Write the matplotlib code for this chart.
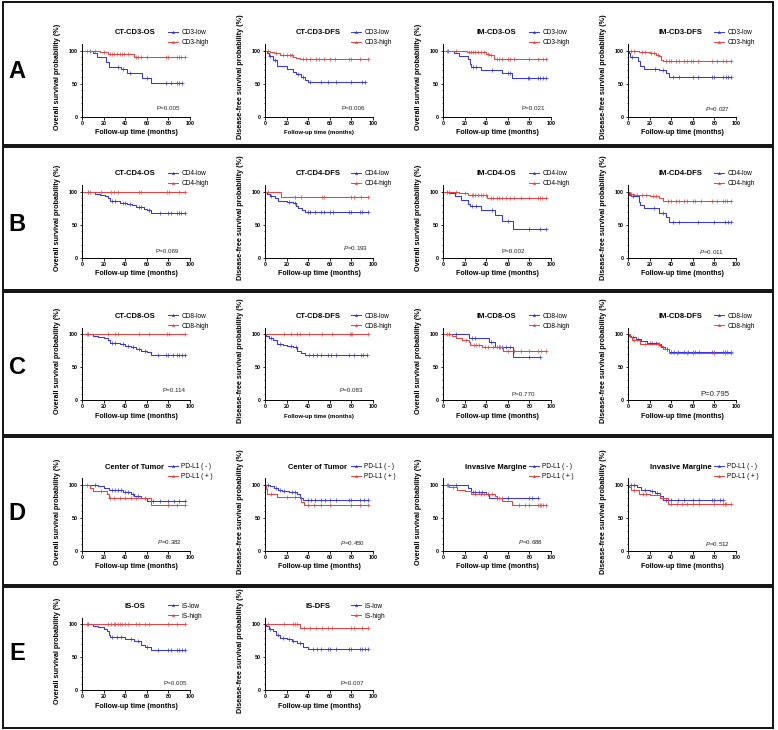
import numpy as np
import matplotlib.pyplot as plt
from matplotlib.patches import Rectangle
from matplotlib.lines import Line2D

plt.rcParams['font.family'] = ['Liberation Sans', 'DejaVu Sans']
plt.rcParams['mathtext.fontset'] = 'custom'
plt.rcParams['mathtext.it'] = 'Liberation Sans:italic'
plt.rcParams['mathtext.rm'] = 'Liberation Sans'

BLUE = '#3535ee'
RED = '#ef4040'

# ---- KM data: (time, survival %) steps and censor times ----
# row A
a1_low = [(0, 100), (10, 96), (14, 91), (22, 83), (25, 76), (36, 72), (42, 66), (56, 59), (64, 51)]
a1_low_c = [7, 33, 38, 44, 60, 78, 82, 88, 90, 93]
a1_high = [(0, 100), (17, 98), (24, 95), (48, 90)]
a1_high_c = [5, 12, 20, 26, 28, 30, 32, 35, 37, 39, 43, 50, 52, 55, 60, 78, 80, 88, 90, 92, 95]

a2_low = [(0, 100), (2, 97), (4, 92), (7, 86), (11, 77), (20, 72), (26, 68), (29, 64), (33, 60), (37, 55), (40, 53)]
a2_low_c = [5, 9, 31, 35, 42, 52, 58, 66, 80, 90, 93]
a2_high = [(0, 100), (5, 98), (8, 96), (14, 93), (26, 91), (29, 89), (32, 87)]
a2_high_c = [3, 10, 17, 20, 23, 25, 35, 38, 42, 47, 50, 55, 60, 65, 78, 80, 88, 95]

a3_low = [(0, 100), (10, 96), (15, 92), (23, 87), (25, 80), (26, 76), (35, 71), (55, 66), (64, 59)]
a3_low_c = [5, 28, 31, 45, 60, 62, 79, 80, 88, 90, 93, 95]
a3_high = [(0, 100), (22, 98), (40, 95), (43, 93), (47, 88)]
a3_high_c = [4, 12, 24, 26, 28, 30, 32, 35, 38, 42, 44, 50, 52, 55, 60, 62, 66, 80, 88, 93, 95]

a4_low = [(0, 100), (1, 96), (2, 90), (9, 84), (11, 77), (15, 73), (29, 70), (35, 66), (38, 60)]
a4_low_c = [4, 25, 32, 42, 47, 60, 65, 78, 80, 88, 91, 93, 95]
a4_high = [(0, 100), (10, 98), (20, 96), (26, 94), (29, 92), (31, 86), (32, 84)]
a4_high_c = [3, 6, 13, 16, 21, 24, 28, 35, 38, 40, 44, 47, 52, 55, 58, 60, 65, 78, 82, 88, 91, 95]

# row B
b1_low = [(0, 100), (10, 99), (12, 97), (17, 95), (21, 93), (24, 90), (26, 86), (35, 83), (42, 81),
          (46, 80), (50, 77), (57, 74), (60, 72), (64, 67)]
b1_low_c = [6, 28, 31, 38, 40, 44, 53, 55, 62, 72, 80, 82, 88, 90, 92, 95]
b1_high = [(0, 100)]
b1_high_c = [7, 18, 27, 30, 33, 53, 55, 79, 81, 90, 95]

b2_low = [(0, 100), (2, 97), (5, 94), (9, 91), (12, 86), (20, 85), (26, 83), (29, 79), (31, 76), (34, 73), (37, 70)]
b2_low_c = [6, 22, 28, 40, 42, 46, 52, 55, 60, 63, 78, 80, 88, 90, 95]
b2_high = [(0, 100), (15, 92)]
b2_high_c = [3, 28, 33, 53, 55, 80, 82, 89, 95]

b3_low = [(0, 100), (6, 98), (11, 93), (17, 87), (23, 82), (25, 78), (35, 72), (48, 65), (55, 56), (65, 44)]
b3_low_c = [4, 27, 31, 45, 60, 80, 90, 95]
b3_high = [(0, 100), (15, 98), (23, 95), (41, 91)]
b3_high_c = [6, 12, 20, 27, 28, 30, 32, 35, 37, 40, 44, 46, 50, 52, 55, 58, 62, 66, 72, 80, 88, 90, 92, 95]

b4_low = [(0, 100), (1, 95), (3, 93), (10, 85), (11, 80), (15, 75), (29, 67), (35, 62), (38, 54)]
b4_low_c = [5, 24, 32, 42, 47, 65, 80, 90, 93, 95]
b4_high = [(0, 100), (2, 97), (6, 95), (20, 93), (29, 90), (32, 86)]
b4_high_c = [3, 8, 13, 17, 23, 26, 37, 40, 44, 47, 52, 55, 60, 62, 68, 78, 82, 88, 90, 92, 95]

# row C
c1_low = [(0, 100), (10, 98), (15, 96), (20, 94), (24, 91), (26, 87), (35, 85), (40, 83), (45, 80),
          (50, 77), (55, 74), (60, 73), (64, 68)]
c1_low_c = [6, 28, 31, 38, 43, 47, 53, 58, 70, 78, 80, 84, 88, 90, 93, 95]
c1_high = [(0, 100)]
c1_high_c = [5, 24, 31, 33, 53, 62, 79, 81, 95]

c2_low = [(0, 100), (1, 97), (4, 94), (7, 91), (11, 86), (17, 84), (20, 82), (26, 80), (30, 75), (33, 72), (37, 68)]
c2_low_c = [6, 14, 24, 29, 41, 44, 48, 52, 58, 61, 66, 78, 82, 89, 91, 94]
c2_high = [(0, 100)]
c2_high_c = [18, 24, 30, 32, 41, 53, 62, 79, 80, 81, 95]

c3_low = [(0, 100), (24, 95), (43, 89), (48, 81), (65, 65)]
c3_low_c = [6, 12, 27, 30, 44, 52, 55, 58, 62, 80, 90]
c3_high = [(0, 100), (8, 98), (12, 94), (18, 91), (24, 88), (25, 84), (36, 80), (56, 75)]
c3_high_c = [4, 21, 29, 31, 33, 39, 42, 46, 50, 53, 60, 66, 72, 80, 88, 91, 95]

c4_low = [(0, 100), (1, 98), (3, 96), (7, 93), (12, 90), (18, 87), (28, 85), (31, 81), (34, 78), (38, 73)]
c4_low_c = [5, 9, 20, 22, 26, 29, 36, 40, 43, 46, 52, 56, 60, 62, 66, 78, 80, 88, 90, 92, 95]
c4_high = [(0, 100), (2, 96), (4, 92), (11, 85), (30, 82), (32, 77), (38, 71)]
c4_high_c = [6, 16, 28, 36, 45, 55, 60, 80, 90, 95]

# row D
d1_neg = [(0, 100), (15, 98), (20, 96), (25, 93), (38, 89), (45, 86), (48, 83), (55, 81), (60, 76)]
d1_neg_c = [12, 28, 31, 33, 36, 40, 43, 47, 52, 58, 66, 72, 80, 85, 90, 95]
d1_pos = [(0, 100), (7, 96), (10, 91), (23, 87), (25, 80), (64, 70)]
d1_pos_c = [5, 18, 26, 30, 35, 40, 45, 50, 80, 88, 95]

d2_neg = [(0, 100), (5, 98), (8, 96), (12, 93), (16, 91), (22, 89), (30, 86), (32, 80), (35, 77)]
d2_neg_c = [3, 10, 14, 18, 25, 28, 40, 43, 46, 52, 56, 60, 66, 78, 80, 88, 92, 95]
d2_pos = [(0, 100), (1, 94), (2, 87), (11, 82), (33, 75), (36, 69)]
d2_pos_c = [6, 20, 28, 40, 45, 52, 60, 80, 88, 95]

d3_neg = [(0, 100), (23, 95), (26, 90), (40, 87), (43, 80)]
d3_neg_c = [5, 12, 28, 30, 33, 36, 42, 50, 55, 60, 80, 82, 88]
d3_pos = [(0, 100), (6, 97), (13, 93), (20, 91), (26, 87), (48, 84), (50, 80), (55, 76), (64, 70)]
d3_pos_c = [4, 9, 30, 35, 38, 45, 52, 70, 76, 80, 88, 90, 91, 93, 95]

d4_neg = [(0, 100), (8, 97), (12, 93), (20, 91), (25, 88), (30, 84), (32, 78)]
d4_neg_c = [3, 6, 16, 22, 27, 35, 40, 46, 52, 60, 66, 78, 80, 85, 88]
d4_pos = [(0, 100), (1, 97), (3, 93), (10, 86), (20, 85), (30, 80), (37, 71)]
d4_pos_c = [6, 14, 17, 40, 45, 50, 55, 60, 66, 80, 88, 90, 91, 95]

# row E
e1_low = [(0, 100), (10, 98), (15, 96), (20, 93), (23, 90), (25, 84), (26, 81), (40, 78), (48, 74),
          (55, 69), (58, 66), (64, 61)]
e1_low_c = [6, 28, 32, 36, 45, 52, 60, 70, 80, 82, 88, 90, 93, 95]
e1_high = [(0, 100)]
e1_high_c = [5, 24, 27, 30, 31, 33, 35, 37, 40, 43, 50, 53, 58, 62, 80, 88, 95]

e2_low = [(0, 100), (1, 97), (4, 93), (7, 90), (10, 84), (14, 80), (20, 78), (25, 75), (30, 71), (35, 66), (40, 62)]
e2_low_c = [5, 12, 17, 22, 26, 32, 44, 48, 52, 58, 60, 66, 78, 80, 88, 90, 93, 95]
e2_high = [(0, 100), (32, 95)]
e2_high_c = [3, 18, 26, 28, 30, 36, 42, 47, 53, 58, 62, 80, 82, 90, 95]

row_letters = ['A', 'B', 'C', 'D', 'E']
titles = [
    ['CT-CD3-OS', 'CT-CD3-DFS', 'IM-CD3-OS', 'IM-CD3-DFS'],
    ['CT-CD4-OS', 'CT-CD4-DFS', 'IM-CD4-OS', 'IM-CD4-DFS'],
    ['CT-CD8-OS', 'CT-CD8-DFS', 'IM-CD8-OS', 'IM-CD8-DFS'],
    ['Center of Tumor', 'Center of Tumor', 'Invasive Margine', 'Invasive Margine'],
    ['IS-OS', 'IS-DFS'],
]
group_names = [
    ('CD3-low', 'CD3-high'),
    ('CD4-low', 'CD4-high'),
    ('CD8-low', 'CD8-high'),
    ('PD-L1 ( - )', 'PD-L1 ( + )'),
    ('IS-low', 'IS-high'),
]
p_values = [
    ['0.005', '0.006', '0.021', '0.027'],
    ['0.069', '0.193', '0.002', '0.011'],
    ['0.114', '0.083', '0.770', '0.795'],
    ['0.382', '0.450', '0.688', '0.512'],
    ['0.005', '0.007'],
]
curves = [
    [(a1_low, a1_low_c, a1_high, a1_high_c), (a2_low, a2_low_c, a2_high, a2_high_c),
     (a3_low, a3_low_c, a3_high, a3_high_c), (a4_low, a4_low_c, a4_high, a4_high_c)],
    [(b1_low, b1_low_c, b1_high, b1_high_c), (b2_low, b2_low_c, b2_high, b2_high_c),
     (b3_low, b3_low_c, b3_high, b3_high_c), (b4_low, b4_low_c, b4_high, b4_high_c)],
    [(c1_low, c1_low_c, c1_high, c1_high_c), (c2_low, c2_low_c, c2_high, c2_high_c),
     (c3_low, c3_low_c, c3_high, c3_high_c), (c4_low, c4_low_c, c4_high, c4_high_c)],
    [(d1_neg, d1_neg_c, d1_pos, d1_pos_c), (d2_neg, d2_neg_c, d2_pos, d2_pos_c),
     (d3_neg, d3_neg_c, d3_pos, d3_pos_c), (d4_neg, d4_neg_c, d4_pos, d4_pos_c)],
    [(e1_low, e1_low_c, e1_high, e1_high_c), (e2_low, e2_low_c, e2_high, e2_high_c)],
]

# ---- layout (pixels) ----
W, H = 778, 730
col_x = [82, 265, 443, 628]
row_y100 = [50.7, 191.7, 334.3, 485, 624.3]
row_box = [(2, 145), (147, 290), (292, 435), (437, 585), (587, 728)]
letter_y = [72, 224, 367, 513, 654]
PX_X = 1.08   # px per month
PX_Y = 0.66   # px per percent
YTOP = 110

# P label placement (data coords) and style
p_pos = [
    [(80, 13), (82, 13), (84, 13), (83, 11)],
    [(79, 9), (84, 14), (65, 9), (77, 9)],
    [(85, 15), (80, 15), (74, 9), (80, 9)],
    [(81, 13), (81, 12), (81, 13), (83, 10)],
    [(86, 10), (81, 10)],
]
p_italic = [
    [False, False, False, True],
    [False, True, False, True],
    [False, False, False, False],
    [True, True, True, True],
    [False, False],
]
small_xlabel = {(0, 1), (2, 1)}
ylabels = ['Overall survival probability (%)', 'Disease-free survival probability (%)']


def km(ax, steps, cens, color):
    t = [p[0] for p in steps]
    s = [p[1] for p in steps]
    end = max(cens[-1], t[-1])
    ax.step(t + [end], s + [s[-1]], where='post', color=color, lw=0.75)
    idx = np.searchsorted(t, cens, side='right') - 1
    ax.plot(cens, np.array(s)[idx], ls='none', marker='+', ms=2.2, mew=0.5, color=color)


fig = plt.figure(figsize=(W / 100, H / 100), dpi=100)

for (y0, y1) in row_box:
    fig.patches.append(Rectangle((3 / W, 1 - y1 / H), 770 / W, (y1 - y0) / H,
                                 transform=fig.transFigure, fill=False, lw=1.4, ec='#111111'))

for r, letter in enumerate(row_letters):
    fig.text(17 / W, 1 - letter_y[r] / H, letter, fontsize=17, fontweight='bold',
             ha='center', va='center')
    for c in range(len(titles[r])):
        x0 = col_x[c]
        ybot = row_y100[r] + 100 * PX_Y
        ax = fig.add_axes([x0 / W, 1 - ybot / H, 100 * PX_X / W, YTOP * PX_Y / H])
        low, low_c, high, high_c = curves[r][c]
        km(ax, low, low_c, BLUE)
        km(ax, high, high_c, RED)
        ax.set_xlim(0, 100)
        ax.set_ylim(0, YTOP)
        ax.set_xticks(range(0, 101, 20))
        ax.set_yticks([0, 50, 100])
        ax.set_yticks(range(10, 110, 10), minor=True)
        for sp in ['top', 'right']:
            ax.spines[sp].set_visible(False)
        for sp in ['left', 'bottom']:
            ax.spines[sp].set_linewidth(0.7)
        ax.tick_params(length=1.8, width=0.6, pad=1, labelsize=3.9)
        ax.tick_params(which='minor', length=1.0, width=0.5)
        for lab in ax.get_xticklabels() + ax.get_yticklabels():
            lab.set_fontweight('bold')

        ax.text(49, 127, titles[r][c], fontsize=5.5, fontweight='bold',
                ha='center', va='center', clip_on=False)
        handles = [Line2D([], [], color=BLUE, lw=0.7, marker='^', ms=1.6, mew=0.4),
                   Line2D([], [], color=RED, lw=0.7, marker='^', ms=1.6, mew=0.4)]
        ax.legend(handles, group_names[r], loc='center left', bbox_to_anchor=(80, 120),
                  bbox_transform=ax.transData, frameon=False, fontsize=4.7,
                  handlelength=1.5, handletextpad=0.5, labelspacing=0.45,
                  borderpad=0, borderaxespad=0)

        ax.text(-23, 60, ylabels[c % 2], rotation=90, fontsize=5.2, fontweight='bold',
                ha='center', va='center', clip_on=False)
        ax.text(50, -24, 'Follow-up time (months)', fontsize=4.3 if (r, c) in small_xlabel else 5.1,
                fontweight='bold', ha='center', va='center', clip_on=False)

        px, py = p_pos[r][c]
        ptxt = ('$\\mathit{P}$=' if p_italic[r][c] else 'P=') + p_values[r][c]
        ax.text(px, py, ptxt, fontsize=5.6 if (r, c) == (2, 3) else 4.5,
                ha='center', va='center', color='#222222')

fig.savefig('out.png', dpi=100)
